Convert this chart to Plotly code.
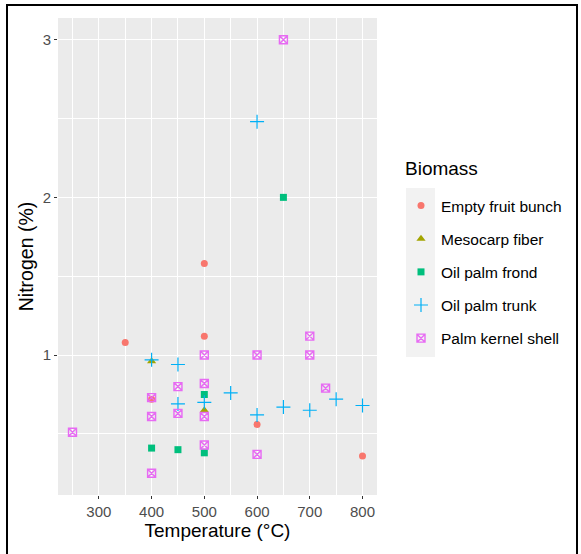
import plotly.graph_objects as go

# ---- data ----
efb_x = [350, 400, 500, 500, 600, 800]
efb_y = [1.08, 0.72, 1.58, 1.12, 0.56, 0.36]

meso_x = [400, 500]
meso_y = [0.96, 0.65]

frond_x = [400, 450, 500, 500, 650]
frond_y = [0.41, 0.40, 0.38, 0.75, 2.0]

trunk_x = [400, 450, 450, 500, 550, 600, 600, 650, 700, 750, 800]
trunk_y = [0.97, 0.94, 0.69, 0.70, 0.76, 2.48, 0.62, 0.67, 0.65, 0.72, 0.68]

pks_x = [250, 400, 400, 400, 450, 450, 500, 500, 500, 500, 600, 600, 650, 700, 700, 730]
pks_y = [0.51, 0.73, 0.61, 0.25, 0.80, 0.63, 1.00, 0.82, 0.61, 0.43, 1.00, 0.37, 3.00, 1.12, 1.00, 0.79]

names = ["Empty fruit bunch", "Mesocarp fiber", "Oil palm frond", "Oil palm trunk", "Palm kernel shell"]
colors = ["#F8766D", "#A3A500", "#00BF7D", "#00B0F6", "#E76BF3"]

x_ticks = [300, 400, 500, 600, 700, 800]
y_ticks = [1, 2, 3]

series = [(efb_x, efb_y), (meso_x, meso_y), (frond_x, frond_y), (trunk_x, trunk_y), (pks_x, pks_y)]
markers = [
    dict(symbol="circle", size=7),
    dict(symbol="triangle-up", size=8),
    dict(symbol="square", size=7),
    dict(symbol="cross-thin-open", size=10, line=dict(width=1.2)),
    dict(symbol="square-x-open", size=8, line=dict(width=1.4)),
]

fig = go.Figure()
for (xs, ys), nm, col, mk in zip(series, names, colors, markers):
    m = dict(mk)
    m["color"] = col
    if "line" in m:
        m["line"] = dict(m["line"], color=col)
    fig.add_trace(go.Scatter(x=xs, y=ys, mode="markers", name=nm, marker=m,
                             legendgroup=nm))

L, R, T, B = 58, 204, 18, 59
W, H = 581, 554
pw, ph = W - L - R, H - T - B

def px(xp):
    return (xp - L) / pw

def py(yp):
    return (H - B - yp) / ph

FONT = "Liberation Sans, Arial, sans-serif"

fig.update_layout(
    width=W, height=H,
    margin=dict(l=L, r=R, t=T, b=B, pad=0),
    paper_bgcolor="white",
    plot_bgcolor="#EBEBEB",
    font=dict(family=FONT, color="#4D4D4D"),
    xaxis=dict(
        range=[222.5, 827.5], tickvals=x_ticks, ticktext=[str(v) for v in x_ticks],
        showgrid=True, gridcolor="white", gridwidth=1.1, zeroline=False,
        ticks="outside", ticklen=3, tickwidth=1, tickcolor="#333333",
        tickfont=dict(size=15, color="#4D4D4D"),
        title=dict(text="Temperature (°C)", font=dict(size=19, color="black"), standoff=3),
        minor=dict(tickvals=[250, 350, 450, 550, 650, 750], showgrid=True,
                   gridcolor="white", gridwidth=0.5, ticks=""),
        showline=False,
    ),
    yaxis=dict(
        range=[0.1125, 3.1375], tickvals=y_ticks, ticktext=[str(v) for v in y_ticks],
        showgrid=True, gridcolor="white", gridwidth=1.1, zeroline=False,
        ticks="outside", ticklen=3, tickwidth=1, tickcolor="#333333",
        tickfont=dict(size=15, color="#4D4D4D"),
        title=dict(text="Nitrogen (%)", font=dict(size=19.5, color="black"), standoff=3),
        minor=dict(tickvals=[0.5, 1.5, 2.5], showgrid=True,
                   gridcolor="white", gridwidth=0.5, ticks=""),
        showline=False,
    ),
    legend=dict(
        x=px(401), y=py(189), xanchor="left", yanchor="top",
        font=dict(size=15.5, color="black", family=FONT),
        tracegroupgap=10, bgcolor="rgba(0,0,0,0)",
    ),
    showlegend=True,
)

fig.add_annotation(text="Biomass", xref="paper", yref="paper",
                   x=px(403), y=py(169), xanchor="left", yanchor="middle",
                   showarrow=False, font=dict(size=19, color="black", family=FONT))

# legend key background
fig.add_shape(type="rect", xref="paper", yref="paper",
              x0=px(406), x1=px(435), y0=py(357), y1=py(188),
              fillcolor="#F2F2F2", line=dict(width=0), layer="below")

# outer border of the image
fig.add_shape(type="rect", xref="paper", yref="paper",
              x0=px(7), x1=px(577), y0=py(565), y1=py(5),
              fillcolor="rgba(0,0,0,0)", line=dict(color="black", width=2))

fig.write_html("out.html")
